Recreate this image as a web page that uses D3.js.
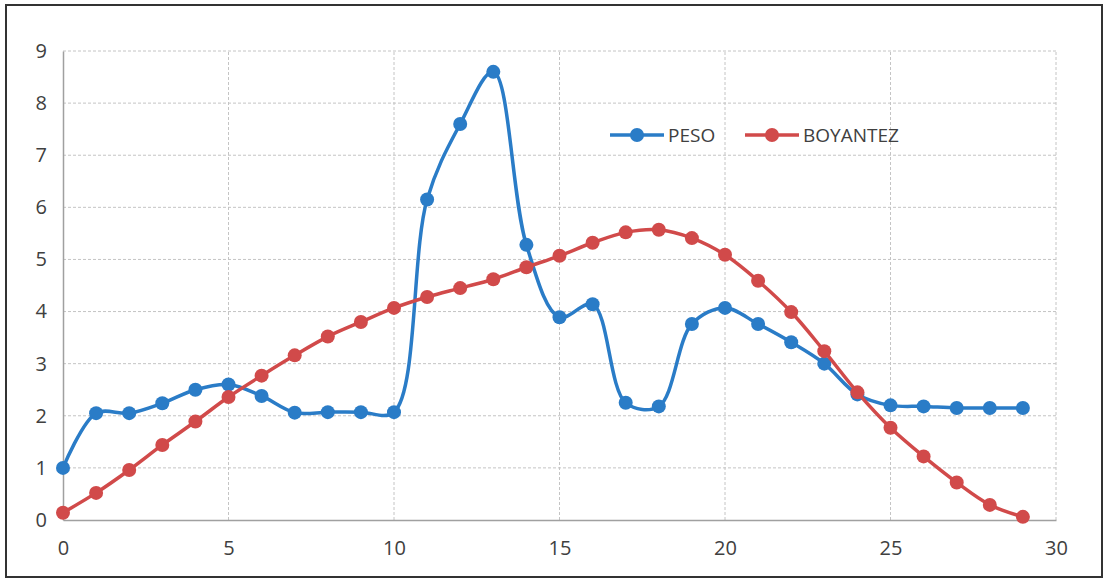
<!DOCTYPE html>
<html>
<head>
<meta charset="utf-8">
<script src="https://cdn.jsdelivr.net/npm/d3@7"></script>
<style>
  body { margin: 0; background: #fff; }
  svg { display: block; font-family: "Open Sans", "DejaVu Sans", sans-serif; }
</style>
</head>
<body>
<svg id="chart" width="1106" height="579"></svg>
<script>
const xValues = d3.range(0, 30);
const peso = [1.0, 2.05, 2.05, 2.24, 2.5, 2.6, 2.38, 2.06, 2.07, 2.07,
  2.07, 6.15, 7.6, 8.6, 5.28, 3.89, 4.14, 2.25, 2.18, 3.76,
  4.07, 3.76, 3.41, 3.0, 2.41, 2.2, 2.18, 2.15, 2.15, 2.15];
const boyantez = [0.14, 0.52, 0.96, 1.44, 1.89, 2.36, 2.77, 3.16, 3.52, 3.8,
  4.07, 4.28, 4.45, 4.62, 4.85, 5.07, 5.32, 5.52, 5.57, 5.41,
  5.09, 4.59, 3.99, 3.24, 2.45, 1.77, 1.22, 0.72, 0.29, 0.06];
const seriesNames = ['PESO', 'BOYANTEZ'];
const xTicks = [0, 5, 10, 15, 20, 25, 30];
const yTicks = d3.range(0, 10);

const colors = ['#2a7cc7', '#d14a4a'];
const margin = { left: 63, right: 50, top: 51, bottom: 59 };
const width = 1106, height = 579;

const svg = d3.select('#chart');

// outer frame
svg.append('rect')
  .attr('x', 6).attr('y', 5)
  .attr('width', 1096).attr('height', 572)
  .attr('fill', 'none')
  .attr('stroke', '#333')
  .attr('stroke-width', 2);

const xScale = d3.scaleLinear().domain([0, 30]).range([margin.left, width - margin.right]);
const yScale = d3.scaleLinear().domain([0, 9]).range([height - margin.bottom, margin.top]);

// grid
const grid = svg.append('g');
grid.selectAll('.hg')
  .data(yTicks.slice(1))
  .join('line')
  .attr('x1', xScale(0)).attr('x2', xScale(30))
  .attr('y1', (d) => yScale(d)).attr('y2', (d) => yScale(d))
  .attr('stroke', '#c4c4c4')
  .attr('stroke-dasharray', '3,2');
grid.selectAll('.vg')
  .data(xTicks.slice(1))
  .join('line')
  .attr('x1', (d) => xScale(d)).attr('x2', (d) => xScale(d))
  .attr('y1', yScale(0)).attr('y2', yScale(9))
  .attr('stroke', '#c4c4c4')
  .attr('stroke-dasharray', '3,2');

// axes
const xAxis = d3.axisBottom(xScale).tickValues(xTicks).tickSize(0).tickPadding(21);
const yAxis = d3.axisLeft(yScale).tickValues(yTicks).tickSize(0).tickPadding(16);

const xAxisG = svg.append('g')
  .attr('transform', `translate(0,${yScale(0)})`)
  .call(xAxis);
const yAxisG = svg.append('g')
  .attr('transform', `translate(${xScale(0)},0)`)
  .call(yAxis);

[xAxisG, yAxisG].forEach((g) => {
  g.select('.domain').attr('stroke', '#a0a0a0').attr('stroke-width', 1.5);
  g.selectAll('text')
    .attr('font-size', 20)
    .attr('fill', '#404040')
    .attr('font-family', '"Open Sans", "DejaVu Sans", sans-serif');
});

// series
const series = [peso, boyantez];
const line = d3.line()
  .x((d, i) => xScale(xValues[i]))
  .y((d) => yScale(d))
  .curve(d3.curveCatmullRom.alpha(0.5));

series.forEach((values, s) => {
  const g = svg.append('g');
  g.append('path')
    .datum(values)
    .attr('d', line)
    .attr('fill', 'none')
    .attr('stroke', colors[s])
    .attr('stroke-width', 3.5);
  g.selectAll('circle')
    .data(values)
    .join('circle')
    .attr('cx', (d, i) => xScale(xValues[i]))
    .attr('cy', (d) => yScale(d))
    .attr('r', 7)
    .attr('fill', colors[s]);
});

// legend
const legendX = [610, 745];
const legendY = 135;
seriesNames.forEach((name, s) => {
  const g = svg.append('g').attr('transform', `translate(${legendX[s]},${legendY})`);
  g.append('line')
    .attr('x1', 0).attr('x2', 54)
    .attr('stroke', colors[s])
    .attr('stroke-width', 3.5);
  g.append('circle')
    .attr('cx', 27).attr('r', 7)
    .attr('fill', colors[s]);
  g.append('text')
    .attr('x', 58)
    .attr('dy', '0.35em')
    .attr('font-size', 19)
    .attr('fill', '#404040')
    .text(name);
});
</script>
</body>
</html>
